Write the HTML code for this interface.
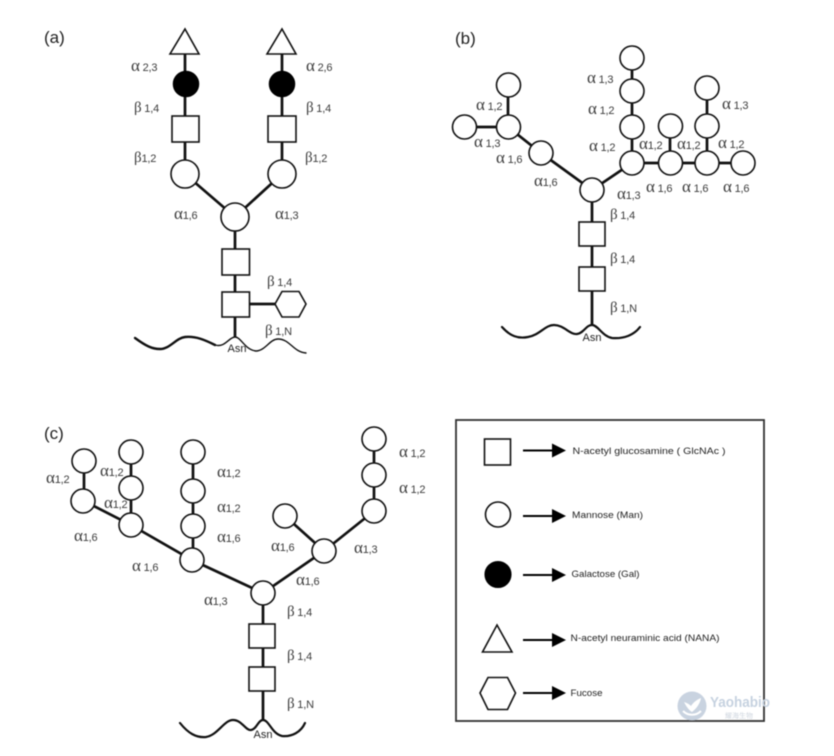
<!DOCTYPE html>
<html>
<head>
<meta charset="utf-8">
<style>
html,body{margin:0;padding:0;background:#fff;width:834px;height:756px;overflow:hidden}
svg{display:block;filter:blur(.45px)}
.e{stroke:#111;stroke-width:2.7;fill:none}
.n{stroke:#111;stroke-width:1.6;fill:#fff}
.k{stroke:#000;stroke-width:1.5;fill:#000}
.w{stroke:#111;fill:none;stroke-linecap:round}
text{font-family:"Liberation Sans",sans-serif;fill:#3c3c3c}
.l{font-size:11px;letter-spacing:-.2px}
.l tspan{font-family:"Liberation Serif",serif;font-size:17px}
.l tspan.b{font-size:15px}
.p{font-size:17px;fill:#222}
.a{font-size:11px;text-anchor:middle;fill:#222}
.t{font-size:9px;fill:#222}
</style>
</head>
<body>
<svg width="834" height="756" viewBox="0 0 834 756" xmlns="http://www.w3.org/2000/svg">
<rect width="834" height="756" fill="#fff"/>

<!-- Panel a -->
<g>
<path class="e" d="M185 54V174M282 54V174M185 174L235 217L282 174M235 217V337M250 304H277"/>
<path class="w" stroke-width="2.4" d="M135 338C146 346 152 349 160 349C170 349 176 338 185 337C196 336 205 340 215 345"/>
<path class="w" stroke-width="1.4" d="M215 345C225 348 229 337 235 337C241 337 245 350 256 351C265 351 270 339 278 339C290 339 293 352 306 353"/>
<polygon class="n" points="185,29 199,54 170,54"/>
<polygon class="n" points="282,29 296,54 267,54"/>
<circle class="k" cx="186" cy="84" r="12.5"/>
<circle class="k" cx="282" cy="84" r="12.5"/>
<rect class="n" x="172" y="116" width="27" height="26"/>
<rect class="n" x="268" y="116" width="28" height="26"/>
<circle class="n" cx="185" cy="174" r="14"/>
<circle class="n" cx="282" cy="174" r="14"/>
<circle class="n" cx="235" cy="217" r="14"/>
<rect class="n" x="222" y="249" width="27.5" height="26"/>
<rect class="n" x="222" y="292" width="27.5" height="25"/>
<polygon class="n" points="275,304 282,291.500 299,291.500 306,304 299,317 282,317"/>
<text class="p" x="44" y="43">(a)</text>
<text class="l" x="131" y="71"><tspan>α</tspan> 2,3</text>
<text class="l" x="306" y="71"><tspan>α</tspan> 2,6</text>
<text class="l" x="134" y="112"><tspan class="b">β</tspan> 1,4</text>
<text class="l" x="306" y="112"><tspan class="b">β</tspan> 1,4</text>
<text class="l" x="134" y="162"><tspan class="b">β</tspan>1,2</text>
<text class="l" x="305" y="162"><tspan class="b">β</tspan>1,2</text>
<text class="l" x="174" y="219"><tspan>α</tspan>1,6</text>
<text class="l" x="275" y="219"><tspan>α</tspan>1,3</text>
<text class="l" x="267" y="286"><tspan class="b">β</tspan> 1,4</text>
<text class="l" x="265" y="335"><tspan class="b">β</tspan> 1,N</text>
<text class="a" x="237" y="352">Asn</text>
</g>

<!-- Panel b -->
<g>
<path class="e" d="M632 58V163M508 85V127M464 127H508L541 153L592 190L632 163H743M670 126V163M707 88V163M592 190V325"/>
<path class="w" stroke-width="2.200" d="M502 327C510 336 518 339 528 337C540 335 545 325 554 325C564 325 570 335 577 334C584 333 586 325 592 325C598 325 602 336 612 338C624 339 634 335 640 327"/>
<circle class="n" cx="632" cy="58" r="12"/>
<circle class="n" cx="632" cy="91" r="12"/>
<circle class="n" cx="632" cy="127" r="12"/>
<circle class="n" cx="632" cy="163" r="12"/>
<circle class="n" cx="670.500" cy="163" r="12"/>
<circle class="n" cx="670.500" cy="126" r="12"/>
<circle class="n" cx="707" cy="163" r="12"/>
<circle class="n" cx="707" cy="126" r="12"/>
<circle class="n" cx="707" cy="88" r="12"/>
<circle class="n" cx="743" cy="163" r="12"/>
<circle class="n" cx="508.500" cy="85" r="12"/>
<circle class="n" cx="508.500" cy="127" r="12"/>
<circle class="n" cx="464.500" cy="127" r="12"/>
<circle class="n" cx="541" cy="153" r="12"/>
<circle class="n" cx="592" cy="190" r="12"/>
<rect class="n" x="579" y="222" width="26" height="24"/>
<rect class="n" x="579" y="267" width="26" height="24"/>
<text class="p" x="455" y="44">(b)</text>
<text class="l" x="587" y="83"><tspan>α</tspan> 1,3</text>
<text class="l" x="588" y="114"><tspan>α</tspan> 1,2</text>
<text class="l" x="589" y="151"><tspan>α</tspan> 1,2</text>
<text class="l" x="639" y="149"><tspan>α</tspan>1,2</text>
<text class="l" x="677" y="149"><tspan>α</tspan>1,2</text>
<text class="l" x="718" y="148"><tspan>α</tspan> 1,2</text>
<text class="l" x="722" y="109"><tspan>α</tspan> 1,3</text>
<text class="l" x="476" y="110"><tspan>α</tspan> 1,2</text>
<text class="l" x="474" y="147"><tspan>α</tspan> 1,3</text>
<text class="l" x="496" y="163"><tspan>α</tspan> 1,6</text>
<text class="l" x="534" y="186"><tspan>α</tspan>1,6</text>
<text class="l" x="617" y="199"><tspan>α</tspan>1,3</text>
<text class="l" x="646" y="192"><tspan>α</tspan> 1,6</text>
<text class="l" x="682" y="192"><tspan>α</tspan> 1,6</text>
<text class="l" x="723" y="192"><tspan>α</tspan> 1,6</text>
<text class="l" x="610" y="219"><tspan class="b">β</tspan> 1,4</text>
<text class="l" x="610" y="263"><tspan class="b">β</tspan> 1,4</text>
<text class="l" x="610" y="312"><tspan class="b">β</tspan> 1,N</text>
<text class="a" x="592" y="341">Asn</text>
</g>

<!-- Panel c -->
<g>
<path class="e" d="M84 461V501L131 525L192 560L263 593L324 551L285 516M324 551L374 511V439M131 452V525M193 452V560M263 593V720"/>
<path class="w" stroke-width="2.200" d="M180 723C188 733 196 738 206 737C218 735 224 720 233 720C242 720 246 731 251 730C257 729 258 720 263 720C269 720 272 734 282 736C292 737 301 732 305 723"/>
<circle class="n" cx="84" cy="461" r="12"/>
<circle class="n" cx="83" cy="501" r="12"/>
<circle class="n" cx="131" cy="452" r="12"/>
<circle class="n" cx="131" cy="488" r="12"/>
<circle class="n" cx="131" cy="525" r="12"/>
<circle class="n" cx="193" cy="452" r="12"/>
<circle class="n" cx="193" cy="491" r="12"/>
<circle class="n" cx="193" cy="526" r="12"/>
<circle class="n" cx="192" cy="560" r="12"/>
<circle class="n" cx="263" cy="593" r="12"/>
<circle class="n" cx="324" cy="551" r="12"/>
<circle class="n" cx="285" cy="516" r="12"/>
<circle class="n" cx="374" cy="511" r="12"/>
<circle class="n" cx="374" cy="475" r="12"/>
<circle class="n" cx="374" cy="439" r="12"/>
<rect class="n" x="249" y="624" width="26" height="24"/>
<rect class="n" x="249" y="667" width="26" height="24"/>
<text class="p" x="44" y="439">(c)</text>
<text class="l" x="46" y="483"><tspan>α</tspan>1,2</text>
<text class="l" x="100" y="476"><tspan>α</tspan>1,2</text>
<text class="l" x="104" y="508"><tspan>α</tspan>1,2</text>
<text class="l" x="74" y="541"><tspan>α</tspan>1,6</text>
<text class="l" x="132" y="571"><tspan>α</tspan> 1,6</text>
<text class="l" x="217" y="477"><tspan>α</tspan>1,2</text>
<text class="l" x="217" y="512"><tspan>α</tspan>1,2</text>
<text class="l" x="217" y="542"><tspan>α</tspan>1,6</text>
<text class="l" x="204" y="605"><tspan>α</tspan>1,3</text>
<text class="l" x="271" y="551"><tspan>α</tspan>1,6</text>
<text class="l" x="296" y="585"><tspan>α</tspan>1,6</text>
<text class="l" x="354" y="553"><tspan>α</tspan>1,3</text>
<text class="l" x="399" y="457"><tspan>α</tspan> 1,2</text>
<text class="l" x="399" y="493"><tspan>α</tspan> 1,2</text>
<text class="l" x="287" y="616"><tspan class="b">β</tspan> 1,4</text>
<text class="l" x="287" y="660"><tspan class="b">β</tspan> 1,4</text>
<text class="l" x="287" y="708"><tspan class="b">β</tspan> 1,N</text>
<text class="a" x="263" y="738">Asn</text>
</g>

<!-- Legend -->
<g>
<rect x="456" y="420" width="308" height="301" fill="#fff" stroke="#333" stroke-width="1.800"/>
<rect class="n" x="484.500" y="439" width="26" height="26"/>
<circle class="n" cx="498" cy="514.500" r="12.500"/>
<circle class="k" cx="498" cy="574.500" r="12.800"/>
<polygon class="n" points="497,625 512,652 482.500,652"/>
<polygon class="n" points="480,693 488,677.500 507.500,677.500 515.500,693 507.500,709.500 488,709.500"/>
<g fill="#000" stroke="#000">
<path stroke-width="2" d="M523 450.500H556M523 516H556M523 575H556M523 640H556M523 693H556"/>
<polygon stroke="none" points="552,443.500 566,450.500 552,457.500"/>
<polygon stroke="none" points="552,509 566,516 552,523"/>
<polygon stroke="none" points="552,568 566,575 552,582"/>
<polygon stroke="none" points="552,633 566,640 552,647"/>
<polygon stroke="none" points="552,686 566,693 552,700"/>
</g>
<text class="t" x="572.500" y="454" textLength="153" lengthAdjust="spacingAndGlyphs">N-acetyl glucosamine ( GlcNAc )</text>
<text class="t" x="572" y="518" textLength="71" lengthAdjust="spacingAndGlyphs">Mannose (Man)</text>
<text class="t" x="571.500" y="577" textLength="68" lengthAdjust="spacingAndGlyphs">Galactose (Gal)</text>
<text class="t" x="570.500" y="641" textLength="149" lengthAdjust="spacingAndGlyphs">N-acetyl neuraminic acid (NANA)</text>
<text class="t" x="570.500" y="696" textLength="32" lengthAdjust="spacingAndGlyphs">Fucose</text>
</g>

<!-- Watermark -->
<g>
<circle cx="692" cy="706" r="14.500" fill="#c9d3e0"/>
<path d="M684 702C687 708 690 711 692 712C696 709 700 704 701 698C696 700 693 703 691 706C689 704 687 703 684 702Z" fill="#fff"/>
<path d="M683 711C688 716 696 716 701 711" stroke="#fff" stroke-width="2" fill="none"/>
<text x="710" y="707" font-size="14.500" font-weight="bold" style="fill:#c6d2e0" textLength="60" lengthAdjust="spacingAndGlyphs">Yaohabio</text>
<text x="725" y="718" font-size="7" style="fill:#cfd6df;font-family:'Liberation Sans','Noto Sans CJK SC',sans-serif">耀海生物</text>
</g>
</svg>
</body>
</html>
